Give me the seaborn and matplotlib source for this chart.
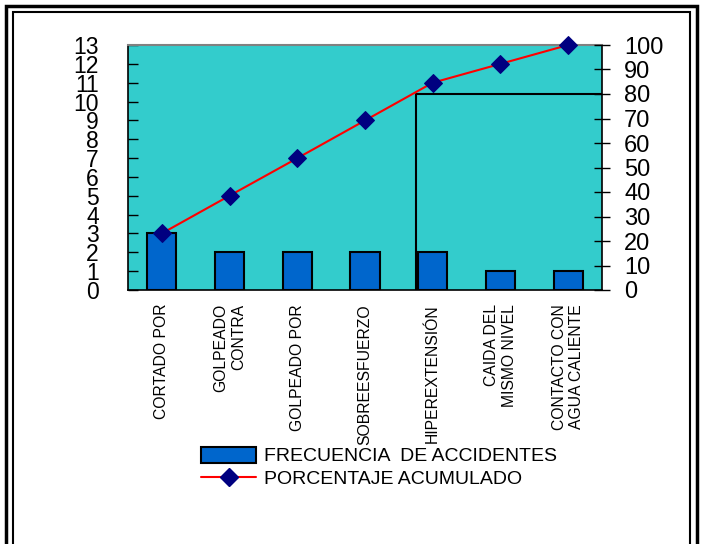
import numpy as np
import pandas as pd
import seaborn as sns
import matplotlib.pyplot as plt
from matplotlib import font_manager
from matplotlib.patches import Patch, Rectangle
from matplotlib.lines import Line2D

# Data
categories = ["CORTADO POR", "GOLPEADO\nCONTRA", "GOLPEADO POR", "SOBREESFUERZO",
              "HIPEREXTENSIÓN", "CAIDA DEL\nMISMO NIVEL", "CONTACTO CON\nAGUA CALIENTE"]
frecuencia = [3, 2, 2, 2, 2, 1, 1]
porcentaje_acum = [23.1, 38.5, 53.8, 69.2, 84.6, 92.3, 100.0]
left_ticks = list(range(0, 14))
right_ticks = list(range(0, 101, 10))
pareto_cutoff = 80
cutoff_pos = 3.75

sns.set_style("white")
plt.rcParams["font.family"] = ["Liberation Sans", "DejaVu Sans"]
plt.rcParams["text.color"] = "black"
plt.rcParams["xtick.color"] = "black"
plt.rcParams["ytick.color"] = "black"
plt.rcParams["xtick.labelcolor"] = "black"
plt.rcParams["ytick.labelcolor"] = "black"

# condensed font if available
try:
    font_manager.findfont("Liberation Sans Narrow", fallback_to_default=False)
    narrow = "Liberation Sans Narrow"
    legend_size = 16
except Exception:
    narrow = "Liberation Sans"
    legend_size = 14

df = pd.DataFrame({"causa": categories, "frecuencia": frecuencia})

fig = plt.figure(figsize=(7.03, 5.44), dpi=100)
ax = fig.add_axes([128 / 703, 1 - 290 / 544, (602 - 128) / 703, (290 - 45) / 544])
ax.set_facecolor("#33CCCC")

sns.barplot(data=df, x="causa", y="frecuencia", color="#0066CC", width=0.43,
            edgecolor="black", linewidth=1.5, saturation=1, ax=ax)
ax.set_xlim(-0.5, len(categories) - 0.5)
ax.set_ylim(0, 13)
ax.set_yticks(left_ticks)
ax.set_yticklabels([str(t) for t in left_ticks], fontsize=16.5, family=narrow)
ax.tick_params(axis="y", direction="in", length=7, width=1, pad=21, colors="black")
ax.set_xticks(range(len(categories)))
ax.set_xticklabels(categories, rotation=90, fontsize=11.3, ha="center", va="top",
                   multialignment="right", color="black")
ax.tick_params(axis="x", length=0, pad=10)
ax.set_xticks(np.arange(-0.5, len(categories), 1), minor=True)
ax.tick_params(axis="x", which="minor", direction="out", length=4, width=1)
ax.set_xlabel("")
ax.set_ylabel("")
for s in ["left", "bottom", "right"]:
    ax.spines[s].set_color("black")
    ax.spines[s].set_linewidth(1.2)
ax.spines["top"].set_color("#808080")
ax.spines["top"].set_linewidth(1.5)

ax2 = ax.twinx()
sns.lineplot(x=np.arange(len(categories)), y=porcentaje_acum, color="red", lw=1.5,
             marker="D", markersize=9, markerfacecolor="#000080",
             markeredgecolor="#000080", clip_on=False, zorder=5, ax=ax2)
ax2.plot([cutoff_pos, cutoff_pos, len(categories) - 0.5],
         [0, pareto_cutoff, pareto_cutoff], color="black", lw=1.5, zorder=3)
ax2.set_ylim(0, 100)
ax2.set_yticks(right_ticks)
ax2.set_yticklabels([str(t) for t in right_ticks], fontsize=17)
ax2.tick_params(axis="y", direction="inout", length=12, width=1, pad=10, colors="black")
ax2.set_ylabel("")
for s in ["left", "bottom", "right", "top"]:
    ax2.spines[s].set_visible(False)

handles = [Patch(facecolor="#0066CC", edgecolor="black", linewidth=1.5),
           Line2D([], [], color="red", lw=1.5, marker="D", markersize=9,
                  markerfacecolor="#000080", markeredgecolor="#000080")]
fig.legend(handles, ["FRECUENCIA  DE ACCIDENTES", "PORCENTAJE ACUMULADO"],
           loc="upper left", bbox_to_anchor=(201 / 703, 1 - 447 / 544),
           frameon=False, prop={"family": narrow, "size": legend_size},
           handlelength=2.85, handleheight=0.85, handletextpad=0.4,
           labelspacing=0.2, borderpad=0, borderaxespad=0, labelcolor="black")

# double frame around the chart
fig.patches.append(Rectangle((6 / 703, -0.1), (697 - 6) / 703, 1.1 - 6.5 / 544,
                             transform=fig.transFigure, fill=False,
                             edgecolor="black", lw=2.5))
fig.patches.append(Rectangle((13 / 703, -0.1), (690 - 13) / 703, 1.1 - 12.5 / 544,
                             transform=fig.transFigure, fill=False,
                             edgecolor="black", lw=1.5))

fig.savefig("out.png", dpi=100, facecolor="white")
